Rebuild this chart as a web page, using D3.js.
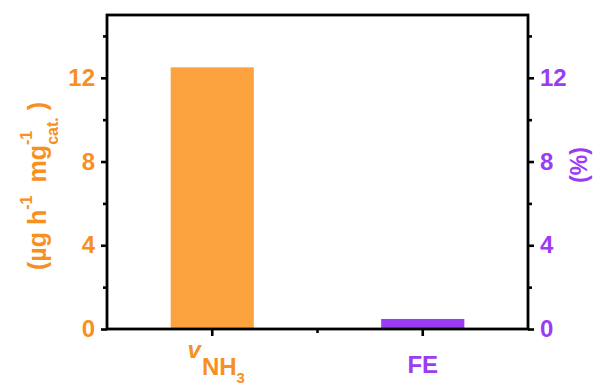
<!DOCTYPE html>
<html>
<head>
<meta charset="utf-8">
<script src="https://cdn.jsdelivr.net/npm/d3@7"></script>
<style>
  html, body { margin: 0; padding: 0; background: #fff; }
  svg { display: block; }
</style>
</head>
<body>
<svg id="chart" width="603" height="386"></svg>
<script>

// data
const categories = ["vNH3", "FE"];
const values = [12.5, 0.48];
const majorTicks = [0, 4, 8, 12];
const minorTicks = [2, 6, 10, 14];


const ORANGE_TXT = "#F7901E";
const ORANGE_BAR = "#FCA23E";
const PURPLE = "#9A3CF4";
const FONT = "Arial, 'Liberation Sans', Helvetica, sans-serif";

const svg = d3.select("#chart");

const plotLeft = 107, plotRight = 528, plotTop = 15, plotBottom = 329;

const x = d3.scaleBand().domain(categories).range([plotLeft, plotRight]).padding(0);
const yL = d3.scaleLinear().domain([0, 15]).range([plotBottom, plotTop]);
const yR = d3.scaleLinear().domain([0, 15]).range([plotBottom, plotTop]);

const barColours = [ORANGE_BAR, PURPLE];
const labelColours = [ORANGE_TXT, PURPLE];


//--------------------------------------
// BARS
//--------------------------------------

const barW = x.bandwidth() * 0.395;

svg.append("g").selectAll("rect")
  .data(values)
  .enter().append("rect")
    .attr("x", (d, i) => x(categories[i]) + x.bandwidth() / 2 - barW / 2)
    .attr("width", barW)
    .attr("y", (d, i) => (i === 0 ? yL(d) : yR(d)))
    .attr("height", (d, i) => plotBottom - (i === 0 ? yL(d) : yR(d)))
    .attr("fill", (d, i) => barColours[i]);


//--------------------------------------
// AXES
//--------------------------------------

function styleAxis(g, colour) {
  g.select(".domain").remove();
  g.selectAll(".tick line").attr("stroke", "#000").attr("stroke-width", 2.6);
  g.selectAll(".tick text")
    .attr("fill", colour)
    .attr("font-family", FONT)
    .attr("font-weight", "bold")
    .attr("font-size", 24);
}

svg.append("g")
  .attr("transform", `translate(${plotLeft},0)`)
  .call(d3.axisLeft(yL).tickValues(majorTicks).tickSize(6).tickPadding(6).tickSizeOuter(0))
  .call(g => styleAxis(g, ORANGE_TXT));

svg.append("g")
  .attr("transform", `translate(${plotLeft},0)`)
  .call(d3.axisLeft(yL).tickValues(minorTicks).tickSize(4).tickFormat("").tickSizeOuter(0))
  .call(g => styleAxis(g, ORANGE_TXT));

svg.append("g")
  .attr("transform", `translate(${plotRight},0)`)
  .call(d3.axisRight(yR).tickValues(majorTicks).tickSize(6).tickPadding(6).tickSizeOuter(0))
  .call(g => styleAxis(g, PURPLE));

svg.append("g")
  .attr("transform", `translate(${plotRight},0)`)
  .call(d3.axisRight(yR).tickValues(minorTicks).tickSize(4).tickFormat("").tickSizeOuter(0))
  .call(g => styleAxis(g, PURPLE));

const xAxis = svg.append("g")
  .attr("transform", `translate(0,${plotBottom})`)
  .call(d3.axisBottom(x).tickSize(7).tickFormat("").tickSizeOuter(0))
  .call(g => styleAxis(g, "#000"));

// minor tick between the two categories
xAxis.append("line")
  .attr("x1", x(categories[1])).attr("x2", x(categories[1]))
  .attr("y1", 0).attr("y2", 4)
  .attr("stroke", "#000").attr("stroke-width", 2.6);

// frame
svg.append("rect")
  .attr("x", plotLeft).attr("y", plotTop)
  .attr("width", plotRight - plotLeft).attr("height", plotBottom - plotTop)
  .attr("fill", "none").attr("stroke", "#000").attr("stroke-width", 2.8);


//--------------------------------------
// CATEGORY LABELS
//--------------------------------------

const xLab = svg.append("g")
  .attr("font-family", FONT)
  .attr("font-weight", "bold")
  .attr("font-size", 24);

const vLab = xLab.append("text")
  .attr("x", x(categories[0]) + x.bandwidth() / 2 + 4)
  .attr("y", 375)
  .attr("text-anchor", "middle")
  .attr("fill", labelColours[0]);
vLab.append("tspan").attr("font-style", "italic").attr("dy", -17).text("v");
vLab.append("tspan").attr("dy", 17).attr("dx", 1).text("NH");
vLab.append("tspan").attr("font-size", 15).attr("dy", 8).text("3");

xLab.append("text")
  .attr("x", x(categories[1]) + x.bandwidth() / 2)
  .attr("y", 373)
  .attr("text-anchor", "middle")
  .attr("fill", labelColours[1])
  .text(categories[1]);


//--------------------------------------
// AXIS TITLES
//--------------------------------------

const lTitle = svg.append("text")
  .attr("transform", "translate(46,186) rotate(-90)")
  .attr("text-anchor", "middle")
  .attr("font-family", FONT)
  .attr("font-weight", "bold")
  .attr("font-size", 25)
  .attr("fill", ORANGE_TXT);
lTitle.append("tspan").text("(\u00B5g h");
lTitle.append("tspan").attr("font-size", 16).attr("dy", -14).text("-1");
lTitle.append("tspan").attr("dy", 14).attr("dx", 6).text(" mg");
lTitle.append("tspan").attr("font-size", 16).attr("dy", -14).text("-1");
lTitle.append("tspan").attr("font-size", 16).attr("dy", 26).attr("dx", -14).text("cat.");
lTitle.append("tspan").attr("dy", -12).text(" )");

svg.append("text")
  .attr("transform", "translate(587,165) rotate(-90)")
  .attr("text-anchor", "middle")
  .attr("font-family", FONT)
  .attr("font-weight", "bold")
  .attr("font-size", 23)
  .attr("fill", PURPLE)
  .text("(%)");

</script>
</body>
</html>
